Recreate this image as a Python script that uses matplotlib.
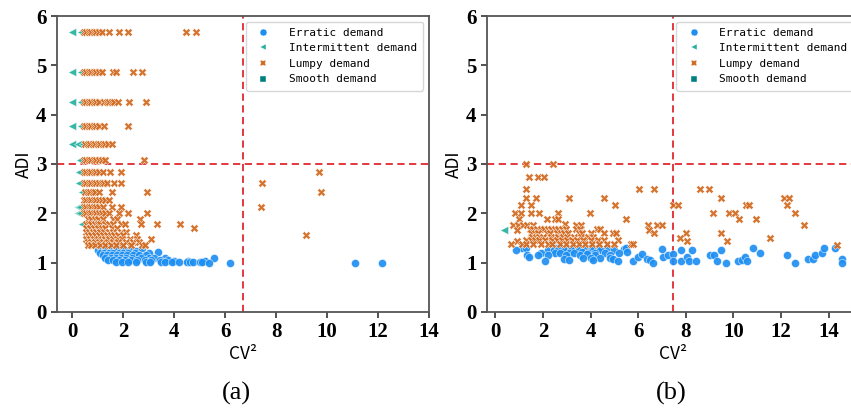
import numpy as np
import matplotlib
matplotlib.use("Agg")
import matplotlib.pyplot as plt
from matplotlib.lines import Line2D

# ---- panel (a) data: (CV^2, ADI) ----
a_erratic = np.array([
    (1.05, 1.29), (1.2, 1.29), (1.35, 1.29), (1.5, 1.29), (1.65, 1.29), (1.8, 1.29), (1.95, 1.29),
    (1.0, 1.25), (1.15, 1.25), (1.3, 1.25), (1.5, 1.25), (1.7, 1.25), (1.9, 1.25), (2.05, 1.25),
    (2.3, 1.25), (2.5, 1.24), (2.75, 1.29),
    (1.1, 1.2), (1.25, 1.2), (1.45, 1.2), (1.6, 1.2), (1.85, 1.2), (2.0, 1.2), (2.2, 1.2),
    (2.45, 1.2), (3.0, 1.2), (3.35, 1.21),
    (1.2, 1.15), (1.35, 1.15), (1.55, 1.15), (1.75, 1.15), (1.95, 1.15), (2.15, 1.15), (2.4, 1.15),
    (2.6, 1.15), (2.9, 1.15),
    (1.3, 1.1), (1.5, 1.1), (1.7, 1.1), (1.9, 1.1), (2.1, 1.1), (2.35, 1.1), (2.7, 1.1),
    (3.0, 1.1), (3.2, 1.1), (3.65, 1.09), (5.55, 1.09),
    (1.4, 1.05), (1.6, 1.05), (1.85, 1.05), (2.05, 1.05), (2.3, 1.05), (2.55, 1.05), (2.85, 1.05),
    (3.1, 1.05), (3.45, 1.05), (3.75, 1.05), (4.0, 1.04), (4.55, 1.04), (5.2, 1.04),
    (1.7, 1.01), (1.95, 1.01), (2.2, 1.01), (2.5, 1.01), (2.9, 1.01), (3.05, 1.01), (3.5, 1.01),
    (3.65, 1.01), (3.9, 1.01), (4.2, 1.01), (4.5, 1.01), (4.62, 1.01), (4.72, 1.02), (5.0, 1.01),
    (5.1, 1.02), (5.35, 1.0), (6.18, 1.0), (11.1, 1.0), (12.17, 1.0),
])

a_intermittent = np.array([
    (0.0, 5.67), (0.35, 5.67), (0.0, 4.86), (0.35, 4.86), (0.0, 4.25), (0.35, 4.25),
    (0.0, 3.78), (0.35, 3.78), (0.0, 3.40), (0.24, 3.40), (0.43, 3.40), (0.3, 3.09),
    (0.28, 2.83), (0.28, 2.62), (0.4, 2.43), (0.22, 2.13), (0.3, 2.13), (0.22, 2.00),
    (0.3, 2.00), (0.37, 1.79),
])

a_lumpy = np.array([
    (0.45, 5.67), (0.55, 5.67), (0.65, 5.67), (0.75, 5.67), (0.85, 5.67), (0.95, 5.67), (1.05, 5.67),
    (1.15, 5.67), (1.46, 5.67), (1.82, 5.67), (2.17, 5.67), (4.46, 5.67), (4.84, 5.67),
    (0.45, 4.86), (0.55, 4.86), (0.65, 4.86), (0.75, 4.86), (0.85, 4.86), (0.95, 4.86), (1.05, 4.86),
    (1.15, 4.86), (1.58, 4.86), (1.72, 4.86), (2.39, 4.86), (2.75, 4.86),
    (0.45, 4.25), (0.55, 4.25), (0.65, 4.25), (0.75, 4.25), (0.85, 4.25), (0.95, 4.25), (1.05, 4.25),
    (1.25, 4.25), (1.35, 4.25), (1.45, 4.25), (1.55, 4.25), (1.65, 4.25), (1.8, 4.25), (2.24, 4.25),
    (2.90, 4.25),
    (0.45, 3.78), (0.55, 3.78), (0.65, 3.78), (0.75, 3.78), (0.85, 3.78), (0.95, 3.78), (1.05, 3.78),
    (1.25, 3.78), (2.20, 3.78),
    (0.5, 3.40), (0.6, 3.40), (0.7, 3.40), (0.8, 3.40), (0.9, 3.40), (1.0, 3.40), (1.1, 3.40),
    (1.2, 3.40), (1.3, 3.40), (1.4, 3.40), (1.55, 3.40),
    (0.45, 3.09), (0.55, 3.09), (0.65, 3.09), (0.75, 3.09), (0.85, 3.09), (0.95, 3.09), (1.05, 3.09),
    (1.15, 3.09), (1.3, 3.09), (2.82, 3.09),
    (0.45, 2.83), (0.55, 2.83), (0.65, 2.83), (0.75, 2.83), (0.85, 2.83), (0.95, 2.83), (1.05, 2.83),
    (1.2, 2.83), (1.48, 2.83), (1.90, 2.83),
    (0.45, 2.62), (0.55, 2.62), (0.65, 2.62), (0.75, 2.62), (0.85, 2.62), (0.95, 2.62), (1.05, 2.62),
    (1.15, 2.62), (1.25, 2.62), (1.38, 2.62), (1.63, 2.62), (1.93, 2.62),
    (0.5, 2.43), (0.6, 2.43), (0.7, 2.43), (0.8, 2.43), (0.9, 2.43), (1.05, 2.43), (1.54, 2.43),
    (2.95, 2.43),
    (0.45, 2.27), (0.55, 2.27), (0.65, 2.27), (0.75, 2.27), (0.85, 2.27), (0.95, 2.27), (1.05, 2.27),
    (1.15, 2.27), (1.3, 2.27), (1.45, 2.27),
    (0.45, 2.13), (0.55, 2.13), (0.65, 2.13), (0.75, 2.13), (0.85, 2.13), (0.95, 2.13), (1.05, 2.13),
    (1.2, 2.13), (1.54, 2.13), (1.93, 2.13),
    (0.45, 2.00), (0.55, 2.00), (0.65, 2.00), (0.75, 2.00), (0.85, 2.00), (0.95, 2.00), (1.05, 2.00),
    (1.15, 2.00), (1.3, 2.00), (1.45, 2.00), (1.84, 2.00), (2.20, 2.00), (2.95, 2.00),
    (0.6, 1.89), (0.75, 1.89), (0.9, 1.89), (1.0, 1.89), (1.2, 1.89), (1.6, 1.89), (1.75, 1.89),
    (2.65, 1.89),
    (0.55, 1.79), (0.65, 1.79), (0.75, 1.79), (0.9, 1.79), (1.0, 1.79), (1.1, 1.79), (1.3, 1.79),
    (1.45, 1.79), (1.6, 1.79), (1.9, 1.79), (2.06, 1.79), (2.68, 1.79), (3.33, 1.79), (4.24, 1.79),
    (0.55, 1.70), (0.7, 1.70), (0.85, 1.70), (1.0, 1.70), (1.15, 1.70), (1.3, 1.70), (1.55, 1.70),
    (1.75, 1.70), (4.77, 1.70),
    (0.55, 1.62), (0.65, 1.62), (0.8, 1.62), (0.95, 1.62), (1.1, 1.62), (1.25, 1.62), (1.45, 1.62),
    (1.6, 1.62), (1.9, 1.62), (2.1, 1.62),
    (0.6, 1.55), (0.75, 1.55), (0.9, 1.55), (1.05, 1.55), (1.2, 1.55), (1.35, 1.55), (1.5, 1.55),
    (1.65, 1.55), (1.8, 1.55), (2.0, 1.55), (2.5, 1.55),
    (0.55, 1.48), (0.7, 1.48), (0.85, 1.48), (1.0, 1.48), (1.15, 1.48), (1.3, 1.48), (1.45, 1.48),
    (1.6, 1.48), (1.75, 1.48), (1.95, 1.48), (2.25, 1.48), (2.55, 1.48), (3.08, 1.48),
    (0.6, 1.42), (0.75, 1.42), (0.9, 1.42), (1.05, 1.42), (1.2, 1.42), (1.4, 1.42), (1.6, 1.42),
    (1.8, 1.42), (2.1, 1.42), (2.4, 1.42), (2.6, 1.42),
    (0.6, 1.36), (0.75, 1.36), (0.9, 1.36), (1.1, 1.36), (1.3, 1.36), (1.5, 1.36), (1.7, 1.36),
    (2.0, 1.36), (2.3, 1.36), (2.75, 1.36), (2.85, 1.36),
    (7.45, 2.62), (7.40, 2.13), (9.69, 2.84), (9.78, 2.43), (9.19, 1.55),
])

# ---- panel (b) data ----
b_erratic = np.array([
    (1.1, 1.30), (1.29, 1.30), (2.37, 1.30), (2.55, 1.30), (2.75, 1.30), (3.0, 1.30), (3.3, 1.30),
    (3.6, 1.30), (3.98, 1.30), (4.3, 1.30), (4.68, 1.30), (5.41, 1.28), (5.5, 1.30),
    (0.87, 1.25), (2.2, 1.25), (2.45, 1.25), (2.65, 1.25), (2.9, 1.25), (3.18, 1.25), (3.5, 1.25),
    (3.75, 1.25), (4.05, 1.25), (4.4, 1.25), (5.0, 1.25),
    (1.9, 1.2), (2.5, 1.2), (2.7, 1.2), (3.1, 1.2), (3.3, 1.2), (3.63, 1.22), (3.9, 1.2), (4.2, 1.2),
    (4.6, 1.2), (5.2, 1.2), (5.52, 1.22),
    (1.32, 1.15), (1.81, 1.15), (2.2, 1.15), (2.95, 1.15), (3.55, 1.15), (3.84, 1.18), (4.19, 1.15),
    (4.8, 1.15),
    (1.43, 1.11), (2.9, 1.08), (3.7, 1.1), (4.0, 1.1), (4.4, 1.1), (4.82, 1.1),
    (2.09, 1.03), (3.1, 1.05), (4.12, 1.05), (4.93, 1.08), (5.17, 1.03),
    (5.80, 1.03), (6.01, 1.11), (6.15, 1.18), (6.36, 1.08), (6.50, 1.05), (6.64, 1.0), (7.02, 1.28),
    (7.06, 1.11), (7.27, 1.15), (7.48, 1.18), (7.48, 1.03), (7.79, 1.25), (7.80, 1.03), (8.04, 1.11),
    (8.15, 1.03), (8.25, 1.25), (8.43, 1.03), (9.02, 1.15), (9.19, 1.15), (9.30, 1.03), (9.48, 1.25),
    (9.69, 1.0), (10.21, 1.03), (10.35, 1.06), (10.49, 1.11), (10.56, 1.03), (10.84, 1.30),
    (11.12, 1.20), (12.24, 1.15), (12.59, 1.0), (13.12, 1.08), (13.33, 1.08), (13.43, 1.15),
    (13.71, 1.20), (13.81, 1.30), (14.27, 1.30), (14.55, 1.08), (14.55, 1.0),
])

b_intermittent = np.array([(0.37, 1.67)])

b_lumpy = np.array([
    (1.29, 3.0), (2.44, 3.0), (1.40, 2.74), (1.81, 2.74), (2.04, 2.74), (1.29, 2.5), (6.02, 2.5),
    (6.67, 2.5), (8.6, 2.5), (8.99, 2.5), (1.29, 2.31), (1.71, 2.31), (3.08, 2.31), (4.57, 2.31),
    (9.48, 2.31), (12.14, 2.31), (12.32, 2.31), (1.09, 2.16), (1.51, 2.16), (5.01, 2.16), (7.45, 2.16),
    (7.69, 2.16), (10.53, 2.16), (10.67, 2.16), (12.24, 2.16), (0.81, 2.0), (1.09, 2.0), (1.51, 2.0),
    (1.82, 2.0), (2.65, 2.0), (3.99, 2.0), (9.16, 2.0), (9.82, 2.0), (10.06, 2.0), (12.59, 2.0),
    (0.98, 1.88), (2.18, 1.88), (2.51, 1.88), (2.65, 1.88), (5.48, 1.88), (10.25, 1.88), (10.95, 1.88),
    (2.94, 1.79), (0.73, 1.77), (0.94, 1.77), (1.18, 1.77), (1.32, 1.77), (1.6, 1.77), (3.38, 1.77),
    (3.59, 1.77), (6.4, 1.77), (6.8, 1.77), (7.0, 1.77), (12.98, 1.77),
    (0.9, 1.67), (6.44, 1.67), (6.67, 1.59), (8.0, 1.59), (9.48, 1.59), (7.76, 1.5), (11.54, 1.5),
    (8.04, 1.44), (9.72, 1.44), (5.14, 1.45), (14.34, 1.36), (0.9, 1.44),
    (1.45, 1.68), (1.6, 1.68), (1.75, 1.68), (1.9, 1.68), (2.05, 1.68), (2.2, 1.68), (2.35, 1.68),
    (2.5, 1.68), (2.65, 1.68), (2.8, 1.68), (2.95, 1.68), (3.4, 1.68), (3.55, 1.68), (4.26, 1.68),
    (4.40, 1.68),
    (1.5, 1.60), (1.65, 1.60), (1.8, 1.60), (2.15, 1.60), (2.3, 1.60), (2.6, 1.60), (2.75, 1.60),
    (2.9, 1.60), (3.05, 1.60), (3.5, 1.60), (3.65, 1.60), (4.0, 1.60), (4.55, 1.60), (4.95, 1.60),
    (5.05, 1.60),
    (1.55, 1.52), (1.7, 1.52), (1.85, 1.52), (2.0, 1.52), (2.35, 1.52), (2.5, 1.52), (2.65, 1.52),
    (2.85, 1.52), (3.0, 1.52), (3.3, 1.52), (3.6, 1.52), (3.9, 1.52), (4.1, 1.52),
    (1.3, 1.45), (1.5, 1.45), (1.65, 1.45), (1.85, 1.45), (2.1, 1.45), (2.4, 1.45), (2.6, 1.45),
    (2.8, 1.45), (3.0, 1.45), (3.2, 1.45), (3.45, 1.45), (3.7, 1.45), (4.0, 1.45), (4.3, 1.45),
    (4.55, 1.45),
    (0.67, 1.38), (1.1, 1.38), (1.3, 1.38), (1.6, 1.38), (1.9, 1.38), (2.2, 1.38), (2.4, 1.38),
    (2.7, 1.38), (2.95, 1.38), (3.25, 1.38), (3.5, 1.38), (3.75, 1.38), (4.05, 1.38), (4.35, 1.38),
    (4.7, 1.38), (5.0, 1.38), (5.7, 1.38), (5.8, 1.38),
])

b_smooth = np.empty((0, 2))
a_smooth = np.empty((0, 2))

labels = ["Erratic demand", "Intermittent demand", "Lumpy demand", "Smooth demand"]
colors = ["#1e8ff2", "#25b0a0", "#d2691e", "#007f7f"]
markers = ["o", "<", "X", "s"]

panels = [
    dict(pos=[0.067, 0.243, 0.437, 0.718], xlim=(-0.6, 14), vline=6.69, cap="(a)",
         series=[a_erratic, a_intermittent, a_lumpy, a_smooth]),
    dict(pos=[0.572, 0.243, 0.4375, 0.718], xlim=(-0.36, 15.28), vline=7.48, cap="(b)",
         series=[b_erratic, b_intermittent, b_lumpy, b_smooth]),
]

fig = plt.figure(figsize=(8.51, 4.12), dpi=100)
cjk = ["Noto Sans CJK SC", "DejaVu Sans"]

for p in panels:
    ax = fig.add_axes(p["pos"])
    for data, lab, c, m in zip(p["series"], labels, colors, markers):
        if len(data) == 0:
            continue
        ax.scatter(data[:, 0], data[:, 1], s=34, c=c, marker=m,
                   edgecolors="white", linewidths=0.35, alpha=0.92, zorder=3)
    ax.axhline(3, color="#e0282e", ls=(0, (4, 2.5)), lw=1.3, zorder=2)
    ax.axvline(p["vline"], color="#e0282e", ls=(0, (4, 2.5)), lw=1.3, zorder=2)
    ax.set_xlim(*p["xlim"])
    ax.set_ylim(0, 6)
    ax.set_xticks(range(0, 16, 2))
    ax.set_yticks(range(0, 7))
    for s in ax.spines.values():
        s.set_color("#555555")
        s.set_linewidth(1.3)
    ax.tick_params(colors="#333333", length=4, width=1.2)
    for t in ax.get_xticklabels() + ax.get_yticklabels():
        t.set_fontfamily("Liberation Serif")
        t.set_fontweight("bold")
        t.set_fontsize(15)
        t.set_color("black")
    ax.set_xlabel("CV²", family=cjk, fontsize=12.5, labelpad=2)
    ax.set_ylabel("ADI", family=cjk, fontsize=12.5, labelpad=2)

    handles = [Line2D([], [], ls="none", marker=m, color=c, markersize=5,
                      markeredgecolor="white", markeredgewidth=0.3)
               for m, c in zip(markers, colors)]
    ax.legend(handles, labels, loc="upper right", prop={"family": "DejaVu Sans Mono", "size": 8},
              handletextpad=1.3, borderpad=0.55, labelspacing=0.5, handlelength=2.0,
              borderaxespad=0.5, framealpha=0.8, edgecolor="#cccccc")
    x0, y0, w, h = p["pos"]
    fig.text(0.278 if p["cap"] == "(a)" else 0.789, 0.045, p["cap"],
             family="Liberation Serif", fontsize=19, ha="center", va="center")

fig.savefig("out.png", dpi=100)
